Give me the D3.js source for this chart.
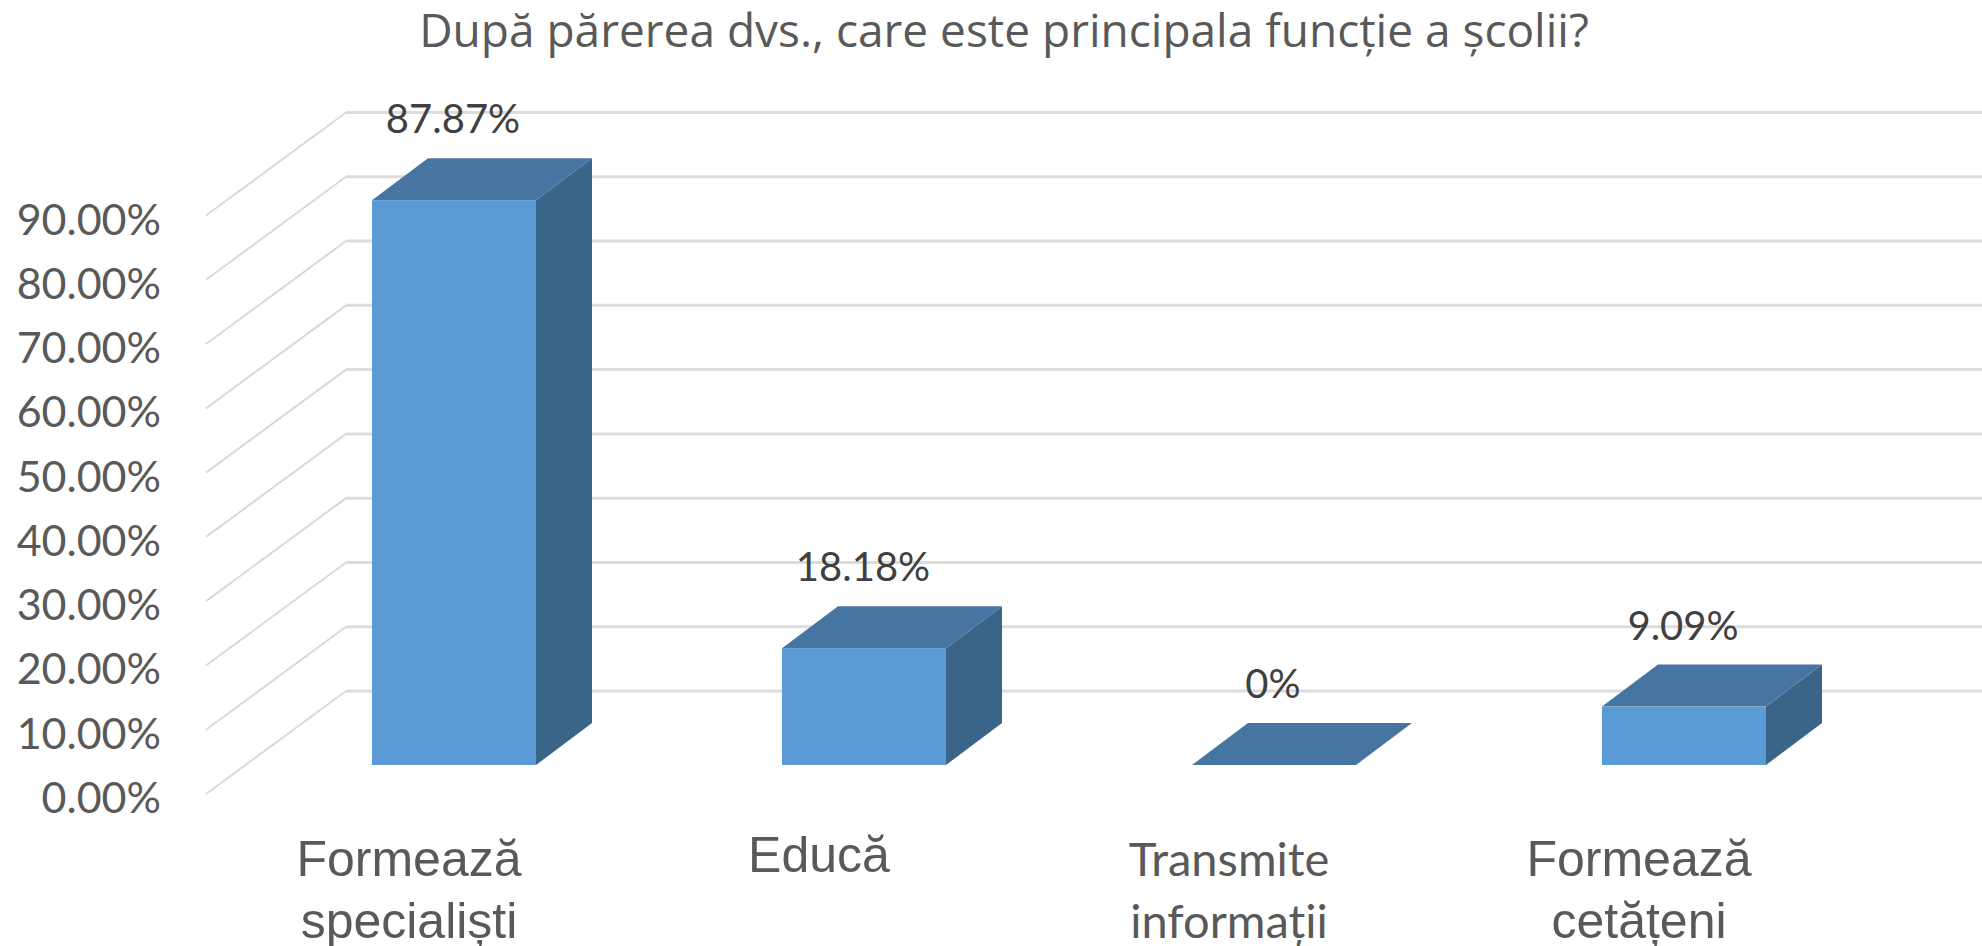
<!DOCTYPE html>
<html>
<head>
<meta charset="utf-8">
<script src="https://cdn.jsdelivr.net/npm/d3@7"></script>
<style>
html, body { margin: 0; padding: 0; background: #fff; overflow: hidden; }
svg { display: block; }
</style>
</head>
<body>
<div id="chart"></div>
<script>
var categories = ["Formează specialiști", "Educă", "Transmite informații", "Formează cetățeni"];
var values = [87.87, 18.18, 0, 9.09];
var valueLabels = ["87.87%", "18.18%", "0%", "9.09%"];
var ticks = [0, 10, 20, 30, 40, 50, 60, 70, 80, 90];
var title = "După părerea dvs., care este principala funcție a școlii?";

var width = 1982, height = 946;

// slant of the floor and of the boxes
var wallDx = 140, wallDy = 103;
var boxDx = 56, boxDy = 42;
var floorDrop = 74;
var wallLeft = 346, wallRight = 1982;

var svg = d3.select("#chart")
    .append("svg")
    .attr("width", width)
    .attr("height", height);

var x = d3.scaleBand()
    .domain(categories)
    .range([208, 1930])
    .paddingInner(0.6)
    .paddingOuter(0.4);

// y is measured on the back wall
var y = d3.scaleLinear()
    .domain([0, 90])
    .range([691, 112.5]);

var grid = svg.append("g");
ticks.forEach(function(t) {
    grid.append("line")
        .attr("x1", wallLeft - wallDx)
        .attr("y1", y(t) + wallDy)
        .attr("x2", wallLeft)
        .attr("y2", y(t))
        .attr("stroke", "#d9d9d9")
        .attr("stroke-width", 2);
    grid.append("line")
        .attr("x1", wallLeft)
        .attr("y1", y(t))
        .attr("x2", wallRight)
        .attr("y2", y(t))
        .attr("stroke", "#dcdcdc")
        .attr("stroke-width", 3);
});

svg.append("g").selectAll("text")
    .data(ticks)
    .enter().append("text")
    .attr("x", 161)
    .attr("y", function(d) { return y(d) + wallDy + 19; })
    .attr("text-anchor", "end")
    .attr("font-family", "Lato")
    .attr("font-size", 43)
    .attr("fill", "#595959")
    .text(function(d) { return d.toFixed(2) + "%"; });

var bars = svg.append("g").selectAll("g")
    .data(values)
    .enter().append("g");

function xAt(i) { return x(categories[i]); }
function topAt(d) { return y(d) + floorDrop; }
var bw = x.bandwidth();
var base = y(0) + floorDrop;

// right side
bars.append("path")
    .attr("d", function(d, i) {
        var r = xAt(i) + bw;
        return "M" + r + "," + topAt(d) + "L" + (r + boxDx) + "," + (topAt(d) - boxDy) +
            "V" + (base - boxDy) + "L" + r + "," + base + "Z";
    })
    .attr("fill", "#3b6489");

// top
bars.append("path")
    .attr("d", function(d, i) {
        var l = xAt(i);
        return "M" + l + "," + topAt(d) + "L" + (l + boxDx) + "," + (topAt(d) - boxDy) +
            "H" + (l + bw + boxDx) + "L" + (l + bw) + "," + topAt(d) + "Z";
    })
    .attr("fill", "#4675a2");

// front
bars.append("rect")
    .attr("x", function(d, i) { return xAt(i); })
    .attr("y", function(d) { return topAt(d); })
    .attr("width", bw)
    .attr("height", function(d) { return base - topAt(d); })
    .attr("fill", "#5b9bd5");

svg.append("g").selectAll("text")
    .data(valueLabels)
    .enter().append("text")
    .attr("x", function(d, i) { return xAt(i) + bw / 2 - 1; })
    .attr("y", function(d, i) { return topAt(values[i]) - 67; })
    .attr("text-anchor", "middle")
    .attr("font-family", "Lato")
    .attr("font-size", 40)
    .attr("fill", "#404040")
    .text(function(d) { return d; });

// category labels, third one is set in a different font in the original
var cat = svg.append("g").selectAll("text")
    .data(categories)
    .enter().append("text")
    .attr("text-anchor", "middle")
    .attr("font-family", function(d, i) { return i == 2 ? "Lato" : "Liberation Sans"; })
    .attr("font-size", function(d, i) { return i == 2 ? 47 : 50; })
    .attr("fill", "#595959")
    .attr("y", function(d, i) { return i == 1 ? 872 : 876; });

cat.each(function(d, i) {
    var el = d3.select(this);
    var cx = xAt(i) + bw / 2 - 45;
    d.split(" ").forEach(function(w, j) {
        el.append("tspan")
            .attr("x", cx)
            .attr("dy", j ? 62 : 0)
            .text(w);
    });
});

svg.append("text")
    .attr("x", 1004)
    .attr("y", 47)
    .attr("text-anchor", "middle")
    .attr("font-family", "Open Sans")
    .attr("font-size", 46)
    .attr("fill", "#595959")
    .text(title);
</script>
</body>
</html>
